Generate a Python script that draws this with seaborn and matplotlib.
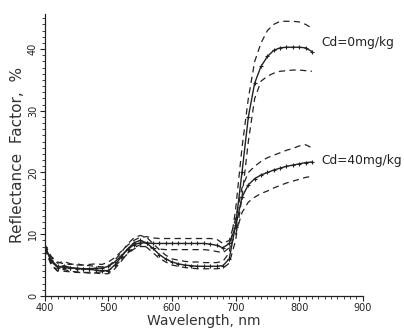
import numpy as np
import pandas as pd
import matplotlib
matplotlib.use("Agg")
import matplotlib.pyplot as plt
from matplotlib.ticker import MultipleLocator
import seaborn as sns

wavelength = list(range(400, 830, 10))

cd0_mean = [8.0, 5.6, 4.6, 4.9, 4.6, 4.4, 4.4, 4.3, 4.2, 4.1, 4.1, 5.0, 6.3, 7.6, 8.6,
            9.0, 8.6, 7.7, 6.7, 6.0, 5.5, 5.2, 5.0, 4.9, 4.8, 4.8, 4.8, 4.8, 4.9, 6.0,
            11.5, 20.0, 29.0, 34.5, 37.2, 38.8, 39.8, 40.2, 40.3, 40.3, 40.3, 40.2, 39.6]
cd0_upper = [8.3, 6.2, 5.3, 5.6, 5.2, 5.0, 5.0, 4.9, 4.8, 4.7, 4.8, 5.8, 7.0, 8.4, 9.4,
             9.8, 9.5, 8.5, 7.5, 6.6, 6.0, 5.8, 5.6, 5.5, 5.5, 5.4, 5.4, 5.4, 5.6, 7.0,
             14.0, 24.0, 32.0, 38.0, 41.0, 43.0, 44.0, 44.5, 44.5, 44.5, 44.4, 44.0, 43.4]
cd0_lower = [7.7, 5.0, 4.0, 4.3, 4.0, 3.9, 3.8, 3.8, 3.7, 3.6, 3.6, 4.4, 5.6, 6.9, 7.8,
             8.3, 7.9, 7.0, 6.1, 5.5, 5.0, 4.8, 4.6, 4.5, 4.4, 4.4, 4.4, 4.4, 4.5, 5.3,
             9.0, 16.0, 25.0, 32.0, 34.8, 35.6, 36.1, 36.4, 36.5, 36.6, 36.6, 36.5, 36.4]

cd40_mean = [8.0, 5.8, 4.8, 4.6, 4.5, 4.5, 4.4, 4.4, 4.5, 4.5, 4.8, 5.5, 6.5, 7.5, 8.3,
             8.6, 8.6, 8.5, 8.5, 8.5, 8.5, 8.5, 8.5, 8.5, 8.5, 8.5, 8.4, 8.2, 7.8, 8.5,
             11.2, 16.0, 18.0, 19.0, 19.6, 20.0, 20.4, 20.7, 21.0, 21.2, 21.4, 21.6, 21.7]
cd40_upper = [8.3, 6.4, 5.5, 5.2, 5.1, 5.2, 5.0, 5.1, 5.2, 5.1, 5.5, 6.2, 7.2, 8.2, 9.0,
              9.5, 9.6, 9.4, 9.3, 9.3, 9.3, 9.3, 9.3, 9.3, 9.3, 9.3, 9.3, 9.2, 8.5, 9.0,
              12.5, 17.5, 20.0, 21.0, 21.8, 22.4, 22.8, 23.2, 23.6, 23.9, 24.3, 24.5, 24.0]
cd40_lower = [7.7, 5.2, 4.1, 4.0, 3.9, 3.8, 3.8, 3.7, 3.8, 3.9, 4.1, 4.8, 5.8, 6.8, 7.6,
              8.0, 8.0, 7.7, 7.6, 7.5, 7.5, 7.5, 7.5, 7.5, 7.5, 7.5, 7.4, 7.2, 7.0, 7.8,
              10.0, 13.5, 15.2, 16.0, 16.6, 17.0, 17.5, 17.9, 18.3, 18.6, 18.9, 19.2, 19.4]

labels = ["Cd=0mg/kg", "Cd=40mg/kg"]
x_ticks = [400, 500, 600, 700, 800, 900]
y_ticks = [0, 10, 20, 30, 40]

sns.set_style("ticks")
plt.rcParams['font.family'] = ['DejaVu Sans']

fig = plt.figure(figsize=(4.04, 3.31), dpi=100)
ax = fig.add_axes([0.111, 0.106, 0.787, 0.852])

ink = "#222222"
for arr in [cd0_upper, cd0_lower, cd40_upper, cd40_lower]:
    sns.lineplot(x=wavelength, y=arr, ax=ax, color=ink, linewidth=0.9,
                 linestyle=(0, (5, 3.5)), estimator=None)
for arr in [cd0_mean, cd40_mean]:
    sns.lineplot(x=wavelength, y=arr, ax=ax, color=ink, linewidth=1.0,
                 linestyle="-", estimator=None)
    sns.scatterplot(x=wavelength, y=arr, ax=ax, color=ink, marker="+",
                    s=9, linewidth=0.8)

ax.text(835, 41.0, labels[0], fontsize=8.8, color=ink, va="center", ha="left")
ax.text(835, 22.0, labels[1], fontsize=8.8, color=ink, va="center", ha="left")

ax.set_xlim(400, 900)
ax.set_ylim(0, 45.7)
ax.set_xticks(x_ticks)
ax.set_yticks(y_ticks)
ax.xaxis.set_minor_locator(MultipleLocator(10))
ax.yaxis.set_minor_locator(MultipleLocator(1))
ax.tick_params(which="major", length=3.5, width=0.8, labelsize=7, colors=ink, pad=1.5)
ax.tick_params(which="minor", length=2.2, width=0.6, colors=ink)
for lab in ax.get_yticklabels():
    lab.set_rotation(90)
    lab.set_va("center")
sns.despine(ax=ax)
for s in ["left", "bottom"]:
    ax.spines[s].set_color(ink)
    ax.spines[s].set_linewidth(0.9)

ax.set_xlabel("Wavelength, nm", fontsize=10, color="#333333", labelpad=1)
ax.set_ylabel("Reflectance  Factor,  %", fontsize=11, color="#333333", labelpad=2)

fig.savefig("out.png", dpi=100)
